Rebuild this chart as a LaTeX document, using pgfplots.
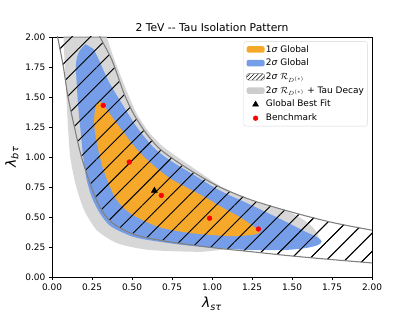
\documentclass[border=0pt]{standalone}
\usepackage{fontspec}
\setmainfont{DejaVu Sans}
\usepackage{pgfplots}
\pgfplotsset{compat=1.18}
\usetikzlibrary{patterns.meta}
\definecolor{corange}{RGB}{245,168,42}
\definecolor{cblue}{RGB}{118,158,232}
\definecolor{cgray}{RGB}{205,205,205}
\definecolor{cedge}{RGB}{128,128,128}
\definecolor{cframe}{RGB}{215,215,215}
\pgfplotsset{
  boxlegend/.style={legend image code/.code={\fill[##1] (0bp,-3bp) rectangle (18bp,3.5bp);}},
  hatchlegend/.style={legend image code/.code={\draw[##1] (0bp,-3bp) rectangle (18bp,3.5bp);}},
  marklegend/.style={legend image code/.code={\draw[##1] plot coordinates {(9bp,0bp)};}},
}
\pgfplotstableread{
x y
0.29 2.05
0.30 2.0
0.375 1.806
0.45 1.53
0.51 1.36
0.59 1.195
0.68 1.06
0.84 0.91
1.04 0.755
1.25 0.64
1.5 0.54
1.75 0.455
2.0 0.39
2.05 0.38
}\upperline
\pgfplotstableread{
x y
2.05 0.112
2.0 0.117
1.75 0.145
1.5 0.175
1.25 0.21
1.0 0.245
0.8 0.28
0.7 0.30
0.55 0.34
0.45 0.39
0.36 0.47
0.30 0.58
0.26 0.70
0.22 0.85
0.18 1.02
0.14 1.25
0.10 1.5
0.07 1.76
0.035 2.0
0.028 2.05
}\lowerline
\begin{document}
\begin{tikzpicture}
\begin{axis}[
  scale only axis, width=320bp, height=240bp,
  xmin=0, xmax=2, ymin=0, ymax=2,
  xtick={0,0.25,0.5,0.75,1,1.25,1.5,1.75,2},
  ytick={0,0.25,0.5,0.75,1,1.25,1.5,1.75,2},
  /pgf/number format/assume math mode=true,
  xticklabel style={/pgf/number format/fixed,/pgf/number format/fixed zerofill,/pgf/number format/precision=2},
  yticklabel style={/pgf/number format/fixed,/pgf/number format/fixed zerofill,/pgf/number format/precision=2},
  ticklabel style={font=\fontsize{9}{10}\selectfont},
  tick align=outside, xtick pos=bottom, ytick pos=left,
  major tick length=3.2bp,
  tick style={black, line width=0.7bp},
  axis line style={line width=0.7bp},
  title={2 TeV -{}- Tau Isolation Pattern},
  title style={font=\fontsize{10.8}{12}\selectfont, at={(0.5,1)}, anchor=south, yshift=-4bp},
  xlabel={\textit{λ}\textsubscript{\textit{sτ}}},
  ylabel={\textit{λ}\textsubscript{\textit{bτ}}},
  label style={font=\fontsize{14}{16}\selectfont},
  legend cell align=left,
  legend style={at={(1,1)}, anchor=north east, xshift=-4.5bp, yshift=-4.5bp,
    draw=cframe, rounded corners=2bp, font=\fontsize{9}{10}\selectfont,
    inner sep=2.5bp, row sep=2.7bp,
    nodes={inner sep=1bp, text height=7bp, text depth=2bp}},
]
% legend entries
\addlegendimage{fill=corange, draw=none, boxlegend}
\addlegendentry{1\textit{σ} Global}
\addlegendimage{fill=cblue, draw=none, boxlegend}
\addlegendentry{2\textit{σ} Global}
\addlegendimage{draw=cedge, pattern={Lines[angle=45,distance=3bp,line width=0.6bp]}, pattern color=black, hatchlegend}
\addlegendentry{2\textit{σ} $\mathcal{R}_{D^{(*)}}$}
\addlegendimage{fill=cgray, draw=none, boxlegend}
\addlegendentry{2\textit{σ} $\mathcal{R}_{D^{(*)}}$ + Tau Decay}
\addlegendimage{only marks, mark=triangle*, mark size=3.5bp, black, marklegend}
\addlegendentry{Global Best Fit}
\addlegendimage{only marks, mark=*, mark size=2.4bp, red, marklegend}
\addlegendentry{Benchmark}

% hatched band, full strength (visible where nothing covers it)
\addplot[forget plot, draw=none, pattern={Lines[angle=45,distance=13bp,line width=0.9bp]}, pattern color=black] coordinates {
(0.29,2.05) (0.30,2.0) (0.375,1.806) (0.45,1.53) (0.51,1.36) (0.59,1.195) (0.68,1.06) (0.84,0.91) (1.04,0.755) (1.25,0.64) (1.5,0.54) (1.75,0.455) (2.0,0.39) (2.05,0.38)
(2.05,0.112) (2.0,0.117) (1.75,0.145) (1.5,0.175) (1.25,0.21) (1.0,0.245) (0.8,0.28) (0.7,0.30) (0.55,0.34) (0.45,0.39) (0.36,0.47) (0.30,0.58) (0.26,0.70) (0.22,0.85) (0.18,1.02) (0.14,1.25) (0.10,1.5) (0.07,1.76) (0.035,2.0) (0.028,2.05)} -- cycle;

% gray region
\addplot[forget plot, fill=cgray, draw=none, smooth, tension=0.4, fill opacity=0.8] coordinates {
(0.07,2.05) (0.075,1.9) (0.08,1.75) (0.09,1.5) (0.10,1.25) (0.114,1.0) (0.146,0.78) (0.2,0.56) (0.28,0.39) (0.41,0.28) (0.61,0.225) (0.93,0.21) (1.1,0.232) (1.3,0.225) (1.55,0.24) (1.64,0.27) (1.67,0.31) (1.65,0.38) (1.6,0.45) (1.5,0.53) (1.25,0.635) (1.05,0.76) (0.86,0.93) (0.70,1.08) (0.61,1.20) (0.53,1.36) (0.47,1.54) (0.39,1.81) (0.33,2.05)} -- cycle;

% blue region
\addplot[forget plot, fill=cblue, draw=none, smooth, tension=0.5] coordinates {
(0.21,1.94) (0.17,1.88) (0.15,1.78) (0.155,1.6) (0.165,1.4) (0.18,1.2) (0.195,1.0) (0.215,0.82) (0.25,0.66) (0.3,0.53) (0.36,0.43) (0.45,0.365) (0.55,0.32) (0.8,0.27) (1.0,0.245) (1.24,0.225) (1.45,0.225) (1.58,0.24) (1.66,0.265) (1.685,0.295) (1.66,0.33) (1.58,0.38) (1.47,0.455) (1.26,0.59) (1.05,0.72) (0.9,0.84) (0.74,0.97) (0.635,1.08) (0.53,1.25) (0.43,1.46) (0.35,1.64) (0.30,1.79) (0.26,1.9)} -- cycle;

% orange region
\addplot[forget plot, fill=corange, draw=none, smooth, tension=0.5] coordinates {
(0.29,1.465) (0.31,1.455) (0.34,1.40) (0.41,1.27) (0.45,1.20) (0.52,1.08) (0.6,0.97) (0.74,0.82) (0.95,0.67) (1.05,0.59) (1.16,0.51) (1.24,0.44) (1.285,0.395) (1.30,0.378) (1.27,0.355) (1.135,0.34) (0.95,0.355) (0.82,0.375) (0.66,0.42) (0.49,0.53) (0.40,0.65) (0.354,0.78) (0.32,0.9) (0.30,1.0) (0.28,1.12) (0.265,1.25) (0.265,1.35) (0.275,1.43)} -- cycle;

% hatched band, faint over the coloured regions
\addplot[forget plot, draw=none, pattern={Lines[angle=45,distance=13bp,line width=0.9bp]}, pattern color=black, fill opacity=0.4] coordinates {
(0.29,2.05) (0.30,2.0) (0.375,1.806) (0.45,1.53) (0.51,1.36) (0.59,1.195) (0.68,1.06) (0.84,0.91) (1.04,0.755) (1.25,0.64) (1.5,0.54) (1.75,0.455) (2.0,0.39) (2.05,0.38)
(2.05,0.112) (2.0,0.117) (1.75,0.145) (1.5,0.175) (1.25,0.21) (1.0,0.245) (0.8,0.28) (0.7,0.30) (0.55,0.34) (0.45,0.39) (0.36,0.47) (0.30,0.58) (0.26,0.70) (0.22,0.85) (0.18,1.02) (0.14,1.25) (0.10,1.5) (0.07,1.76) (0.035,2.0) (0.028,2.05)} -- cycle;
\addplot[forget plot, cedge, line width=1.1bp, smooth, tension=0.5] table {\upperline};
\addplot[forget plot, cedge, line width=1.1bp, smooth, tension=0.5] table {\lowerline};

% benchmark points
\addplot[forget plot, only marks, mark=*, mark size=2.4bp, red] coordinates {
(0.32,1.43) (0.483,0.958) (0.683,0.68) (0.985,0.49) (1.29,0.40)};
% best fit
\addplot[forget plot, only marks, mark=triangle*, mark size=3.5bp, black] coordinates {(0.64,0.72)};
\end{axis}
\pgfresetboundingbox
\path[use as bounding box] ([shift={(-52bp,-34bp)}]current axis.south west) rectangle ([shift={(43bp,37bp)}]current axis.north east);
\end{tikzpicture}
\end{document}
